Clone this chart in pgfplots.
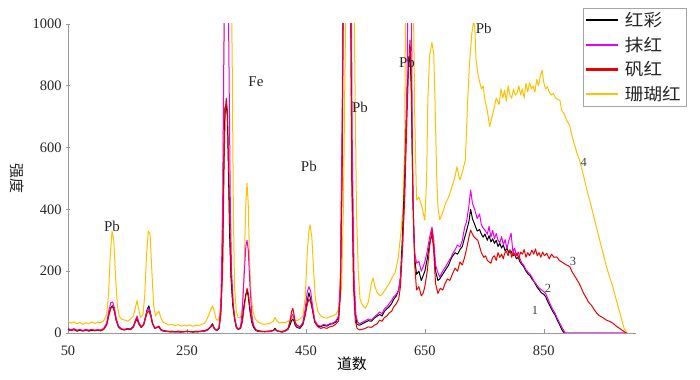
\documentclass[border=0pt]{standalone}
\usepackage{pgfplots}
\pgfplotsset{compat=1.18}
\usepackage{fontspec}
\setmainfont{Liberation Serif}
\newfontfamily\cjk{Noto Sans CJK SC}
\newfontfamily\cjkw{Noto Sans CJK SC}[FakeStretch=1.1]
\definecolor{cblack}{RGB}{0,0,0}
\definecolor{cmag}{RGB}{235,0,235}
\definecolor{cred}{RGB}{235,0,0}
\definecolor{cyel}{RGB}{255,192,0}
\begin{document}
\begin{tikzpicture}
\begin{axis}[
  scale only axis, width=568bp, height=309bp,
  xmin=50, xmax=1005, ymin=0, ymax=1000,
  axis lines=left,
  axis line style={-, draw=gray!80, line width=0.6bp},
  xtick={50,250,450,650,850}, ytick={0,200,400,600,800,1000},
  xtick align=inside, ytick align=center,
  major tick length=4bp,
  tick style={draw=gray!80, line width=0.6bp},
  /pgf/number format/assume math mode=true,
  /pgf/number format/1000 sep={},
  ticklabel style={font=\fontsize{14.5}{16}\selectfont, text=black!85},
  xticklabel style={yshift=-9bp},
  yticklabel style={xshift=-1bp},
  xlabel={\cjk\fontsize{15}{17}\selectfont 道数},
  xlabel style={at={(rel axis cs:0.5,0)}, anchor=center, yshift=-31bp},
  legend style={at={(rel axis cs:0.907,1.052)}, anchor=north west, draw=gray!70, line width=0.6bp,
    font=\cjkw\fontsize{17}{19}\selectfont, inner xsep=3bp, inner ysep=2bp, row sep=5bp,
    nodes={inner sep=2bp, text=black!85}},
  legend cell align=left,
  legend image code/.code={\fill[#1, draw=none] (0bp,-1.1bp) rectangle (32bp,1.1bp); \path (36bp,0bp);},
  every axis plot/.append style={line width=1bp, line join=round},
]
\coordinate (bl) at (rel axis cs:0,0);
\coordinate (tr) at (rel axis cs:1,1);
% yellow 珊瑚红
\addplot[cyel, forget plot] coordinates {
(50,38)(55,32)(60,36)(65,30)(70,34)(75,28)(80,33)(85,30)(90,36)(95,31)(100,35)(105,33)(110,40)(115,60)(118,120)(121,250)(124,330)(127,300)(130,180)(133,90)(136,55)(140,45)(145,42)(150,38)(155,45)(160,55)(163,80)(166,105)(169,75)(172,50)(176,60)(179,120)(182,250)(185,330)(188,320)(191,200)(194,90)(197,55)(200,65)(203,70)(206,50)(210,35)(215,30)(220,26)(225,28)(230,24)(235,27)(240,22)(245,25)(250,23)(255,26)(260,22)(265,25)(270,24)(275,28)(280,32)(285,50)(290,75)(293,88)(296,70)(299,45)(302,40)(305,60)(308,120)(310,400)(312,900)(314,1200)(324,1200)(326,900)(328,400)(330,150)(333,70)(336,50)(340,50)(343,80)(346,200)(349,420)(351,485)(353,420)(355,250)(358,120)(361,70)(365,45)(370,35)(375,30)(380,28)(385,30)(390,32)(395,38)(398,50)(401,40)(405,32)(410,35)(415,33)(420,38)(425,45)(428,50)(431,42)(435,40)(440,45)(445,55)(449,120)(452,250)(455,330)(457,350)(460,310)(463,200)(466,110)(470,70)(475,55)(480,50)(485,48)(490,52)(495,55)(500,60)(505,75)(510,150)(513,400)(516,900)(518,1200)(530,1200)(532,900)(535,400)(538,200)(541,110)(545,90)(550,80)(555,100)(560,160)(563,178)(566,150)(570,130)(575,120)(580,130)(585,145)(590,160)(595,180)(600,195)(605,240)(610,330)(613,400)(616,600)(618,1200)(630,1200)(633,700)(636,430)(640,440)(645,408)(650,365)(653,500)(655,754)(658,900)(662,940)(665,900)(667,754)(670,500)(672,408)(675,366)(680,390)(685,420)(690,440)(695,470)(700,500)(704,538)(707,510)(709,495)(713,520)(718,560)(720,650)(722,754)(725,870)(729,970)(732,1010)(734,990)(736,884)(740,830)(745,790)(748,800)(751,754)(755,720)(759,668)(763,700)(767,732)(770,760)(775,740)(778,790)(781,760)(784,786)(787,750)(790,800)(793,770)(796,760)(799,790)(802,770)(805,776)(808,800)(811,770)(814,790)(817,760)(820,808)(823,780)(826,810)(829,790)(832,800)(835,780)(838,820)(841,800)(844,830)(847,851)(850,810)(853,790)(856,797)(859,780)(862,770)(866,775)(870,760)(874,755)(877,754)(880,720)(884,710)(888,690)(891,680)(894,668)(897,640)(900,620)(903,600)(906,580)(910,560)(914,530)(918,500)(922,465)(927,430)(931,400)(935,370)(940,330)(944,300)(948,270)(952,240)(956,210)(960,185)(966,150)(970,120)(975,85)(980,50)(985,15)(990,0)
};
% black 红彩
\addplot[cblack, forget plot] coordinates {
(50,12)(55,8)(60,11)(65,6)(70,9)(75,7)(80,10)(85,6)(90,9)(95,8)(100,10)(105,7)(110,12)(115,28)(119,62)(122,82)(125,88)(128,72)(131,42)(135,20)(140,12)(145,10)(150,13)(155,11)(160,20)(163,36)(166,45)(169,30)(173,18)(177,26)(180,50)(183,75)(186,88)(189,62)(192,32)(196,15)(200,18)(203,20)(206,10)(210,6)(215,5)(220,4)(230,4)(240,3)(250,5)(260,3)(270,4)(280,6)(285,10)(290,22)(293,30)(296,15)(300,8)(304,15)(307,70)(310,250)(312,550)(314,730)(316,740)(318,700)(320,500)(322,300)(324,180)(327,90)(330,45)(333,18)(336,12)(340,15)(343,40)(346,90)(349,125)(351,135)(353,120)(356,70)(359,35)(362,18)(366,8)(370,5)(380,4)(390,5)(395,8)(398,15)(401,7)(410,3)(415,6)(420,12)(423,25)(426,40)(428,45)(430,38)(432,25)(435,18)(440,15)(445,28)(449,60)(452,100)(455,130)(458,110)(461,75)(465,35)(470,22)(475,20)(480,25)(485,22)(490,28)(495,30)(500,35)(505,50)(508,150)(511,600)(513,1200)(525,1200)(527,600)(530,200)(533,60)(536,28)(540,25)(545,30)(550,35)(555,40)(560,38)(565,48)(570,55)(574,60)(578,55)(582,70)(586,78)(590,85)(594,95)(598,110)(602,120)(606,140)(609,180)(612,300)(616,500)(620,780)(623,880)(625,900)(627,800)(630,430)(633,240)(636,190)(640,200)(644,170)(647,185)(650,200)(654,240)(658,290)(662,320)(665,280)(668,200)(672,170)(675,175)(680,190)(685,205)(690,220)(694,240)(697,250)(701,260)(705,255)(709,270)(713,280)(717,310)(720,330)(724,360)(727,400)(730,370)(734,350)(738,330)(742,335)(745,320)(748,310)(751,320)(755,300)(758,315)(761,295)(764,305)(767,290)(770,300)(773,280)(776,290)(779,275)(782,285)(785,265)(788,275)(791,260)(795,265)(798,250)(801,255)(804,240)(807,245)(810,230)(813,222)(816,215)(820,200)(824,190)(827,185)(830,175)(834,165)(838,150)(842,140)(846,130)(850,125)(853,118)(857,100)(861,85)(865,70)(869,58)(873,40)(877,25)(880,12)(883,3)(885,0)
};
% magenta 抹红
\addplot[cmag, forget plot] coordinates {
(50,15)(55,10)(60,14)(65,9)(70,12)(75,8)(80,12)(85,9)(90,12)(95,9)(100,11)(105,10)(110,15)(115,32)(119,75)(122,98)(125,100)(128,82)(131,48)(135,22)(140,14)(145,12)(150,15)(155,13)(160,22)(163,40)(166,55)(169,35)(173,20)(177,28)(180,50)(183,72)(186,80)(189,60)(192,32)(196,16)(200,18)(203,20)(206,10)(210,7)(215,5)(220,5)(230,4)(240,4)(250,5)(260,4)(270,5)(280,6)(285,10)(290,20)(293,26)(296,14)(300,8)(304,18)(307,90)(310,400)(312,900)(314,1200)(319,1200)(321,800)(323,400)(325,200)(328,90)(331,40)(334,18)(337,12)(340,20)(343,70)(346,180)(349,280)(351,300)(353,270)(356,150)(359,60)(362,25)(366,10)(370,6)(380,4)(390,5)(395,8)(398,12)(401,7)(410,3)(415,6)(420,14)(423,35)(426,55)(428,60)(430,48)(432,30)(435,20)(440,18)(445,35)(449,80)(452,130)(455,150)(458,135)(461,90)(465,40)(470,25)(475,22)(480,28)(485,25)(490,30)(495,32)(500,38)(505,55)(508,180)(511,700)(513,1200)(526,1200)(528,600)(531,180)(534,60)(537,35)(540,30)(545,35)(550,40)(555,45)(560,42)(565,52)(570,60)(574,68)(578,62)(582,78)(586,85)(590,95)(594,105)(598,118)(602,125)(606,139)(609,180)(612,260)(616,450)(620,800)(622,1200)(627,1200)(629,600)(631,333)(633,260)(636,226)(640,232)(644,200)(647,214)(650,230)(654,265)(658,310)(662,343)(665,300)(668,220)(672,195)(675,181)(680,200)(685,215)(690,232)(694,245)(697,258)(701,270)(705,285)(709,278)(713,300)(717,343)(720,360)(724,410)(727,463)(730,420)(734,398)(738,370)(742,385)(745,350)(748,340)(751,333)(755,320)(758,345)(761,310)(764,332)(767,305)(770,322)(773,300)(776,292)(779,312)(782,285)(785,302)(788,272)(791,298)(795,323)(798,262)(801,275)(804,250)(807,262)(810,240)(813,226)(816,220)(820,205)(824,196)(827,190)(830,181)(834,166)(838,156)(842,146)(846,140)(850,134)(853,128)(857,110)(861,92)(865,76)(869,64)(873,46)(877,31)(880,20)(883,10)(886,0)(990,0)
};
% red 矾红
\addplot[cred, forget plot] coordinates {
(50,10)(55,8)(60,12)(65,7)(70,10)(75,6)(80,9)(85,8)(90,11)(95,7)(100,9)(105,8)(110,12)(115,25)(119,60)(122,80)(125,85)(128,70)(131,40)(135,18)(140,12)(145,10)(150,14)(155,12)(160,20)(163,35)(166,48)(169,30)(173,18)(177,25)(180,45)(183,65)(186,72)(189,55)(192,30)(196,15)(200,20)(203,22)(206,12)(210,8)(215,7)(220,5)(225,6)(230,4)(235,6)(240,5)(245,4)(250,6)(255,5)(260,4)(265,6)(270,5)(275,7)(280,8)(285,12)(290,20)(293,25)(296,15)(300,8)(304,15)(307,60)(310,200)(312,500)(314,700)(316,760)(318,720)(320,550)(322,350)(324,200)(327,100)(330,50)(333,20)(336,12)(340,15)(343,35)(346,80)(349,120)(351,145)(353,130)(356,80)(359,40)(362,20)(366,10)(370,8)(375,6)(380,5)(385,6)(390,7)(395,8)(398,12)(401,8)(405,6)(410,5)(415,8)(420,15)(423,35)(426,70)(428,80)(430,60)(432,35)(435,25)(440,20)(445,30)(449,60)(452,90)(455,110)(458,100)(461,75)(465,35)(470,20)(475,15)(480,18)(485,15)(490,20)(495,22)(500,28)(505,40)(508,120)(511,500)(513,1200)(525,1200)(527,500)(530,150)(533,40)(536,15)(540,10)(545,12)(550,15)(555,20)(560,18)(565,25)(570,30)(574,42)(578,38)(582,50)(586,55)(590,65)(594,70)(598,85)(602,95)(606,110)(609,150)(612,260)(616,430)(620,700)(623,880)(625,948)(627,850)(630,430)(633,220)(636,139)(640,150)(644,120)(647,128)(650,150)(654,200)(658,280)(662,333)(665,260)(668,160)(672,128)(676,145)(680,139)(684,160)(688,175)(692,170)(697,194)(701,210)(705,200)(709,230)(713,220)(717,246)(721,280)(724,310)(727,333)(730,320)(733,310)(736,305)(739,300)(742,280)(745,260)(749,245)(752,250)(755,235)(758,230)(761,226)(764,245)(767,250)(770,235)(773,260)(776,245)(779,255)(782,240)(784,258)(787,265)(790,250)(793,270)(796,245)(799,262)(802,250)(805,258)(808,240)(811,262)(814,255)(817,270)(820,245)(823,260)(826,250)(830,268)(833,255)(836,272)(839,250)(842,260)(845,245)(848,262)(851,250)(855,258)(859,240)(863,255)(867,245)(872,246)(876,235)(880,230)(884,225)(888,220)(891,218)(894,214)(897,200)(900,190)(904,178)(908,165)(912,150)(917,128)(921,115)(925,100)(930,90)(935,75)(939,64)(944,55)(949,50)(955,42)(960,38)(966,32)(972,22)(978,14)(984,6)(988,0)
};
\addlegendimage{cblack}\addlegendentry{红彩}
\addlegendimage{cmag}\addlegendentry{抹红}
\addlegendimage{cred}\addlegendentry{矾红}
\addlegendimage{cyel}\addlegendentry{珊瑚红}
\begin{scope}[every node/.style={font=\fontsize{15}{17}\selectfont, text=black!85}]
\node at (axis cs:124,346) {Pb};
\node at (axis cs:366,812) {Fe};
\node at (axis cs:455,540) {Pb};
\node at (axis cs:541,731) {Pb};
\node at (axis cs:620,877) {Pb};
\node at (axis cs:749,987) {Pb};
\end{scope}
\begin{scope}[every node/.style={font=\fontsize{12.5}{14}\selectfont, text=black!75}]
\node at (axis cs:835,74) {1};
\node at (axis cs:857,146) {2};
\node at (axis cs:899,230) {3};
\node at (axis cs:917,553) {4};
\end{scope}
\end{axis}
\node[rotate=-90, font=\cjk\fontsize{15}{17}\selectfont, text=black!85] at ([shift={(-51bp,154.5bp)}]bl) {强度};
\path ([shift={(-68bp,-47bp)}]bl) rectangle ([shift={(64bp,24bp)}]tr);
\end{tikzpicture}
\end{document}
